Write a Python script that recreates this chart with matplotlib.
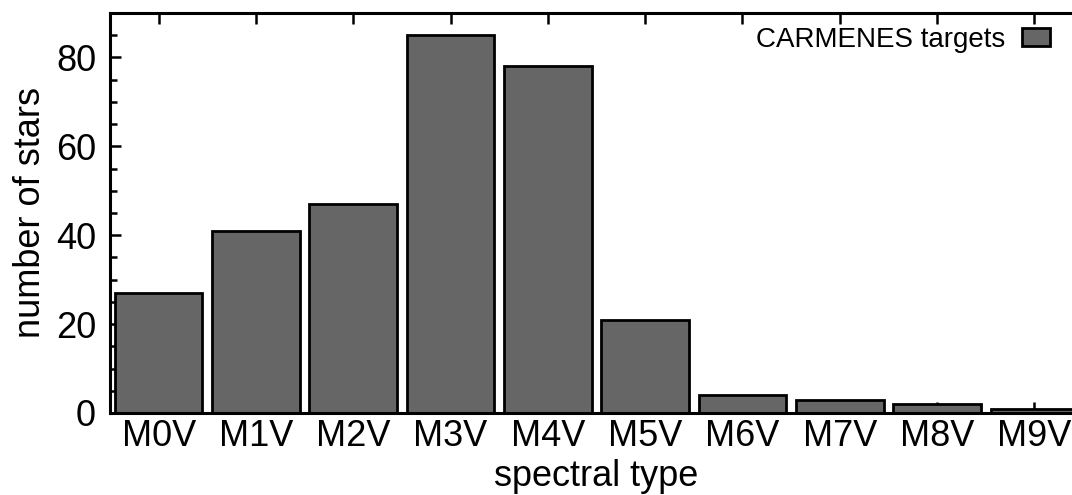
import matplotlib
matplotlib.use('Agg')
import matplotlib.pyplot as plt
from matplotlib.ticker import MultipleLocator

plt.rcParams['font.family'] = ['Liberation Sans', 'DejaVu Sans']

spectral_types = ['M0V', 'M1V', 'M2V', 'M3V', 'M4V', 'M5V', 'M6V', 'M7V', 'M8V', 'M9V']
n_stars = [27, 41, 47, 85, 78, 21, 4, 3, 2, 1]

fig = plt.figure(figsize=(10.72, 4.95), dpi=100)
# axes run past the right edge of the canvas
ax = fig.add_axes([110/1072, 1 - 413/495, 973/1072, 400/495])
ax.set_axisbelow(True)

xs = range(len(spectral_types))
ax.bar(xs, n_stars, width=0.9, color='#666666', edgecolor='black',
       linewidth=2.0, label='CARMENES targets')

ax.set_xlim(-0.5, 9.5)
ax.set_ylim(0, 90)
ax.set_xticks(list(xs))
ax.set_xticklabels(spectral_types)
ax.yaxis.set_major_locator(MultipleLocator(20))
ax.yaxis.set_minor_locator(MultipleLocator(5))

for s in ax.spines.values():
    s.set_linewidth(2.2)
ax.tick_params(axis='both', which='both', direction='in', top=True, right=True,
               width=1.8, labelsize=26)
ax.tick_params(which='major', length=8)
ax.tick_params(which='minor', length=5)
ax.tick_params(axis='y', which='minor', right=False)
ax.tick_params(axis='y', pad=10)
ax.tick_params(axis='x', pad=4)

ax.set_xlabel('spectral type', fontsize=26, labelpad=4)
ax.set_ylabel('number of stars', fontsize=26, labelpad=6)

leg = ax.legend(loc='upper right', bbox_to_anchor=(1050/1072, 1 - 27/495),
                bbox_transform=fig.transFigure,
                markerfirst=False, frameon=False, fontsize=20,
                handlelength=1.0, handleheight=0.6, handletextpad=0.6,
                borderpad=0, borderaxespad=0)

fig.savefig('out.png', dpi=100)
